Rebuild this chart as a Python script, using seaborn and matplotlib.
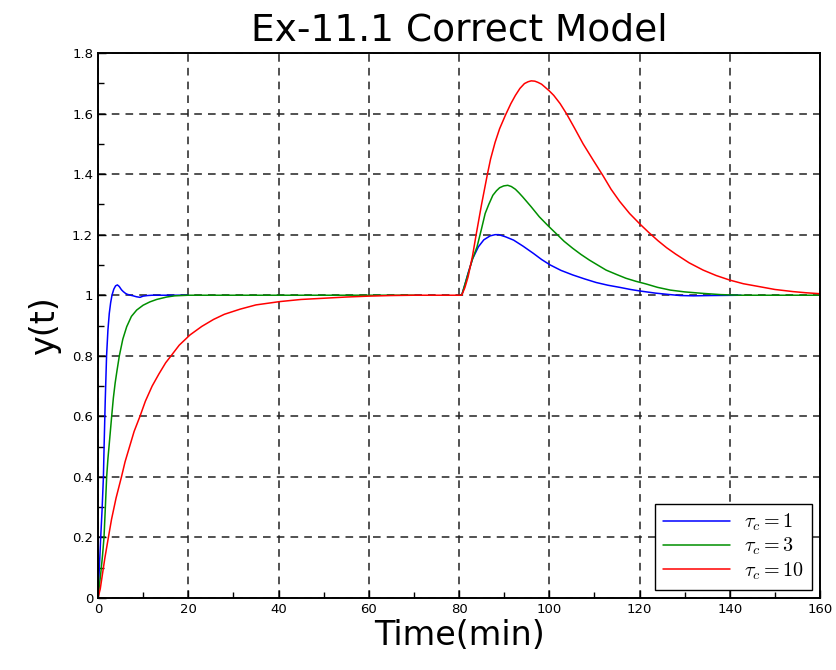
import numpy as np
import pandas as pd
import matplotlib
matplotlib.use("Agg")
import matplotlib.pyplot as plt
from matplotlib.ticker import MultipleLocator
import seaborn as sns

# values
t_blue_a = [0, 0.3, 0.6, 0.9, 1.2, 1.35, 1.6, 1.9, 2.2, 2.5, 2.8, 3.1, 3.5, 3.9, 4.3, 4.7, 5.2, 5.6,
            6.1, 6.5, 7.2, 7.8, 8.5, 9.3, 10, 11, 12, 20]
y_blue_a = [0, 0.1, 0.2, 0.29, 0.4, 0.5, 0.65, 0.8, 0.885, 0.94, 0.975, 1.0, 1.02, 1.031, 1.034, 1.029,
            1.018, 1.012, 1.006, 1.003, 1.0, 0.998, 0.995, 0.993, 0.997, 0.999, 1.0, 1.0]

t_green_a = [0, 0.6, 1.0, 1.33, 1.6, 1.92, 2.2, 2.5, 3.03, 3.4, 3.8, 4.2, 4.73, 5.5, 6.36, 7.4, 8.57,
             10, 11.5, 13, 15.2, 17, 20, 70]
y_green_a = [0, 0.08, 0.14, 0.2, 0.29, 0.4, 0.46, 0.51, 0.6, 0.66, 0.71, 0.75, 0.8, 0.855, 0.896, 0.93,
             0.951, 0.967, 0.978, 0.986, 0.994, 0.998, 1.0, 1.0]

t_red = [0, 0.5, 1, 1.5, 2.3, 3, 4, 5.2, 6, 7, 8, 9.3, 10.5, 12, 13.5, 15, 16.2, 18, 20.4, 23, 25.6,
         28, 31.5, 35, 40.3, 45, 50, 55, 60, 65, 70, 80, 80.6,
         81.3, 82, 83, 83.8, 85, 86.3, 87, 88, 89, 90.3, 91.5, 92.5, 93.5, 94.5, 95.3, 96, 96.8, 97.5,
         98.3, 99, 100, 101, 102.4, 103.8, 105.6, 107.5, 109.7, 111.9, 113.7, 115.6, 117.8, 120.1,
         122, 124.1, 126, 128, 131, 134.1, 137, 140, 143, 146.7, 150, 154, 157, 160]
y_red = [0, 0.03, 0.08, 0.13, 0.2, 0.26, 0.33, 0.4, 0.45, 0.5, 0.55, 0.6, 0.65, 0.7, 0.74, 0.777, 0.8,
         0.835, 0.869, 0.897, 0.92, 0.937, 0.954, 0.968, 0.979, 0.986, 0.99, 0.994, 0.997, 0.999, 1.0,
         1.0, 1.0,
         1.025, 1.06, 1.13, 1.2, 1.3, 1.4, 1.45, 1.505, 1.55, 1.595, 1.633, 1.66, 1.683, 1.699, 1.705,
         1.708, 1.707, 1.703, 1.697, 1.688, 1.675, 1.66, 1.633, 1.6, 1.552, 1.5, 1.447, 1.395, 1.35,
         1.31, 1.27, 1.235, 1.208, 1.18, 1.157, 1.136, 1.107, 1.083, 1.065, 1.05, 1.038, 1.028, 1.019,
         1.012, 1.008, 1.005]

t_green_b = [80, 80.6, 81.3, 82, 83, 84, 85, 85.8, 86.6, 87.5, 88.3, 89, 89.9, 90.8, 91.6, 92.5, 93.3,
             94.1, 96, 97.8, 99.7, 101.5, 103.3, 105.2, 107, 108.9, 110.8, 112.6, 115, 117, 119.2,
             121.5, 124, 126.8, 130, 134.1, 138, 142, 160]
y_green_b = [1.0, 1.0, 1.035, 1.07, 1.12, 1.16, 1.22, 1.27, 1.3, 1.33, 1.345, 1.355, 1.361, 1.363,
             1.359, 1.35, 1.338, 1.325, 1.292, 1.259, 1.23, 1.204, 1.178, 1.155, 1.135, 1.116, 1.099,
             1.083, 1.068, 1.056, 1.046, 1.037, 1.026, 1.017, 1.011, 1.006, 1.002, 1.0, 1.0]

t_blue_b = [80, 80.6, 81.3, 82, 83, 84.3, 85.5, 86.9, 88, 88.8, 90.3, 92.1, 94.2, 96.5, 98.3, 100.2,
            102.6, 105.2, 107.8, 110.4, 113, 115.6, 118, 120.1, 123.5, 126.8, 129, 132, 136, 142.5]
y_blue_b = [1.0, 1.0, 1.035, 1.072, 1.12, 1.16, 1.183, 1.196, 1.2, 1.2, 1.193, 1.182, 1.162, 1.138,
            1.118, 1.1, 1.082, 1.067, 1.054, 1.042, 1.033, 1.026, 1.019, 1.014, 1.007, 1.002, 0.999,
            0.998, 0.999, 1.0]

labels = [r"$\tau_c = 1$", r"$\tau_c = 3$", r"$\tau_c = 10$"]
colors = ["#0000ff", "#008f00", "#ff0000"]

segments = [
    (labels[0], "a", t_blue_a, y_blue_a),
    (labels[1], "a", t_green_a, y_green_a),
    (labels[2], "a", t_red, y_red),
    (labels[0], "b", t_blue_b, y_blue_b),
    (labels[1], "b", t_green_b, y_green_b),
]
frames = []
for lab, seg, t, y in segments:
    frames.append(pd.DataFrame({"t": t, "y": y, "series": lab, "seg": seg}))
df = pd.concat(frames, ignore_index=True)

sns.set_style("white")
plt.rcParams["mathtext.fontset"] = "cm"
for key in ["text.color", "axes.labelcolor", "xtick.color", "ytick.color"]:
    plt.rcParams[key] = "black"

fig = plt.figure(figsize=(8.36, 6.7), dpi=100)
ax = fig.add_axes([98 / 836, 1 - 598 / 670, 722 / 836, 545 / 670])

sns.lineplot(data=df, x="t", y="y", hue="series", units="seg", estimator=None, sort=False,
             hue_order=labels, palette=colors, linewidth=1.1, ax=ax)

ax.set_xlim(0, 160)
ax.set_ylim(0, 1.8)
ax.xaxis.set_major_locator(MultipleLocator(20))
ax.xaxis.set_minor_locator(MultipleLocator(10))
ax.yaxis.set_minor_locator(MultipleLocator(0.1))
ax.set_yticks(np.arange(0, 1.81, 0.2))
ax.set_yticklabels(["0", "0.2", "0.4", "0.6", "0.8", "1", "1.2", "1.4", "1.6", "1.8"])
ax.tick_params(which="both", direction="in", bottom=True, left=True, top=False, right=False,
               labelsize=9.5, color="black")
ax.tick_params(which="major", length=6, width=1)
ax.tick_params(which="minor", length=4, width=1)
ax.grid(True, which="major", color="#222222", linestyle=(0, (5, 4)), linewidth=1.1)
for s in ax.spines.values():
    s.set_color("black")
    s.set_linewidth(1.4)

ax.set_title("Ex-11.1 Correct Model", fontsize=27, pad=9)
ax.set_xlabel("Time(min)", fontsize=24, labelpad=2)
ax.set_ylabel("y(t)", fontsize=24, labelpad=8)

leg = ax.legend(loc="lower right", fontsize=14.5, frameon=True, fancybox=False,
                edgecolor="black", framealpha=1, borderaxespad=0.4, handlelength=3.3,
                handletextpad=0.7, labelspacing=0.15, borderpad=0.4)
leg.get_frame().set_linewidth(1.0)
leg.set_title(None)

fig.savefig("out.png", dpi=100)
